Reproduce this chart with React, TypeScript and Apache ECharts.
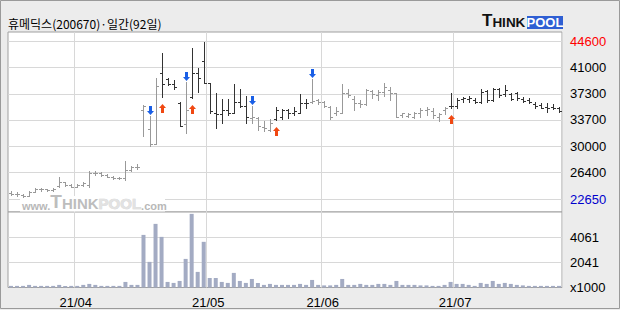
import React, { useEffect, useRef } from "react";
import * as echarts from "echarts";

const title = "휴메딕스(200670)·일간(92일)";

const dates = [
  "21/03/17", "21/03/18", "21/03/19", "21/03/22", "21/03/23", "21/03/24", "21/03/25", "21/03/26", "21/03/29", "21/03/30", "21/03/31",
  "21/04/01", "21/04/02", "21/04/05", "21/04/06", "21/04/07", "21/04/08", "21/04/09", "21/04/12", "21/04/13", "21/04/14", "21/04/15",
  "21/04/16", "21/04/19", "21/04/20", "21/04/21", "21/04/22", "21/04/23", "21/04/26", "21/04/27", "21/04/28", "21/04/29", "21/04/30",
  "21/05/03", "21/05/04", "21/05/06", "21/05/07", "21/05/10", "21/05/11", "21/05/12", "21/05/13", "21/05/14", "21/05/17", "21/05/18",
  "21/05/20", "21/05/21", "21/05/24", "21/05/25", "21/05/26", "21/05/27", "21/05/28", "21/05/31",
  "21/06/01", "21/06/02", "21/06/03", "21/06/04", "21/06/07", "21/06/08", "21/06/09", "21/06/10", "21/06/11", "21/06/14", "21/06/15",
  "21/06/16", "21/06/17", "21/06/18", "21/06/21", "21/06/22", "21/06/23", "21/06/24", "21/06/25", "21/06/28", "21/06/29", "21/06/30",
  "21/07/01", "21/07/02", "21/07/05", "21/07/06", "21/07/07", "21/07/08", "21/07/09", "21/07/12", "21/07/13", "21/07/14", "21/07/15",
  "21/07/16", "21/07/19", "21/07/20", "21/07/21", "21/07/22", "21/07/23", "21/07/26",
];

const opens = [
  23500, 23450, 23300, 23100, 23700, 24050, 24100, 23950, 24450, 25050, 24700,
  24400, 24650, 24700, 26250, 26350, 26050, 25800, 25600, 25550, 26750, 27100,
  35050, 32400, 30300, 40200, 39300, 38650, 36050, 33050, 36800, 40150, 41900,
  38750, 34700, 34500, 35050, 34700, 36200, 35550, 33950, 34000, 32750, 32300,
  33750, 34150, 35050, 34600, 34700, 36000, 36100, 36400,
  36200, 35450, 34600, 34700, 37400, 36550, 36000, 35900, 37750, 37150, 37600,
  37850, 37400, 34350, 34250, 34150, 34600, 35050, 34950, 34150, 35050, 35650,
  35550, 36600, 36650, 36450, 36150, 37700, 36450, 37950, 37250, 37250, 37350,
  36600, 36400, 35850, 35700, 35500, 35500, 35300,
];
const highs = [
  23750, 23600, 23400, 23800, 24200, 24250, 24150, 24200, 25700, 25100, 24800,
  24750, 25100, 26650, 26600, 26450, 26150, 25900, 25800, 28000, 27300, 27550,
  35700, 34200, 39450, 43000, 39550, 39250, 36200, 39000, 43650, 40950, 44550,
  38750, 37400, 36550, 36550, 38650, 37950, 37000, 35600, 34050, 33500, 33750,
  35500, 35150, 35150, 35500, 37300, 36550, 39300, 36550,
  36350, 35600, 35500, 38650, 37950, 37000, 36450, 37950, 37850, 37850, 38850,
  38300, 37400, 34700, 34700, 34800, 35300, 35500, 35300, 34700, 35500, 37400,
  36700, 36900, 37050, 36700, 37950, 37850, 38050, 38150, 38550, 37400, 37500,
  36900, 36750, 36200, 36000, 36000, 35850, 35500,
];
const lows = [
  23250, 23100, 22950, 23050, 23650, 23850, 23800, 23850, 24400, 24500, 24300,
  24350, 24550, 24350, 26050, 25850, 25700, 25450, 25450, 25350, 26600, 26800,
  31400, 30000, 30300, 36900, 38550, 37950, 32850, 31900, 36780, 37500, 38850,
  34650, 32500, 33200, 34350, 34600, 35450, 33300, 33200, 32300, 32200, 32200,
  33650, 33750, 33900, 34350, 34600, 35300, 36000, 35900,
  35500, 33750, 34350, 34600, 36800, 35050, 35500, 35750, 36700, 36450, 37000,
  36450, 34050, 34050, 34050, 33900, 34150, 34350, 34000, 33550, 34450, 35400,
  35400, 36200, 36200, 36000, 36000, 36200, 36300, 36900, 37050, 36450, 36450,
  36150, 36000, 35300, 35300, 34750, 35200, 34750,
];
const closes = [
  23450, 23350, 23050, 23700, 24050, 24100, 23950, 24100, 25050, 24700, 24400,
  24650, 24900, 26250, 26350, 26050, 25800, 25600, 25550, 26750, 27100, 27100,
  35600, 30300, 38400, 38650, 38650, 38200, 32900, 35050, 40150, 39550, 38850,
  34900, 34500, 35050, 34700, 36200, 35550, 34050, 34050, 32850, 32500, 33300,
  35050, 35050, 34600, 34950, 36000, 36050, 36250, 36200,
  35600, 34150, 34950, 37400, 37150, 36000, 35900, 37850, 37300, 37600, 38300,
  37400, 34150, 34600, 34500, 34700, 35050, 35150, 34350, 34450, 35300, 35550,
  36450, 36750, 36750, 36150, 37600, 36450, 37950, 37150, 37850, 36600, 36700,
  36250, 36200, 35550, 35400, 35400, 35300, 34900,
];
// volume in thousands of shares
const volumes = [
  130, 130, 130, 210, 130, 130, 130, 130, 210, 130, 130,
  130, 210, 290, 210, 130, 130, 130, 130, 450, 210, 210,
  4250, 2070, 5140, 4090, 450, 370, 530, 2310, 5950, 1260, 3690,
  770, 770, 450, 370, 1180, 530, 370, 690, 370, 210, 290,
  210, 210, 210, 210, 290, 210, 610, 210,
  170, 170, 210, 690, 210, 210, 290, 210, 210, 290, 290,
  210, 530, 210, 210, 210, 170, 170, 130, 130, 210, 450,
  290, 290, 210, 130, 370, 290, 530, 290, 370, 290, 210,
  170, 130, 130, 130, 130, 130, 130,
];

const buySignals = [25, 30, 44, 73];
const sellSignals = [23, 29, 40, 50];

const priceTicks = [44600, 41000, 37300, 33700, 30000, 26400, 22650];
const volumeTicks = [4061, 2041];
const volumeUnit = "x1000";

const FONT = "'Liberation Sans', Arial, sans-serif";

export default function App() {
  const ref = useRef<HTMLDivElement>(null);

  useEffect(() => {
    if (!ref.current) return;
    const chart = echarts.init(ref.current, undefined, { renderer: "svg" });

    const buySet = new Set(buySignals);
    const sellSet = new Set(sellSignals);
    const holding: boolean[] = [];
    let state = false;
    for (let i = 0; i < dates.length; i++) {
      if (buySet.has(i)) state = true;
      if (sellSet.has(i)) state = false;
      holding.push(state);
    }

    const monthStart = (i: number) =>
      i > 0 && dates[i].slice(0, 5) !== dates[i - 1].slice(0, 5);

    const ohlc = dates.map((_, i) => [i, opens[i], highs[i], lows[i], closes[i]]);

    const renderItem = (params: any, api: any) => {
      const i = api.value(0);
      const o = api.value(1);
      const h = api.value(2);
      const l = api.value(3);
      const c = api.value(4);
      const x = api.coord([i, o])[0];
      const yo = Math.round(api.coord([i, o])[1]) + 0.5;
      const yh = Math.round(api.coord([i, h])[1]);
      const yl = Math.round(api.coord([i, l])[1]) + 1;
      const yc = Math.round(api.coord([i, c])[1]) + 0.5;
      const xc = Math.round(x) + 0.5;
      const color = holding[i] ? "#333333" : "#999999";
      const st = { stroke: color, lineWidth: 1 };
      const children: any[] = [
        { type: "line", shape: { x1: xc, y1: yh, x2: xc, y2: yl }, style: st },
        { type: "line", shape: { x1: xc - 2.5, y1: yo, x2: xc, y2: yo }, style: st },
        { type: "line", shape: { x1: xc, y1: yc, x2: xc + 2.5, y2: yc }, style: st },
      ];
      if (buySet.has(i)) {
        const t = yl + 6;
        children.push({
          type: "polygon",
          shape: {
            points: [
              [xc, t], [xc + 3.5, t + 4], [xc + 1.5, t + 4], [xc + 1.5, t + 9],
              [xc - 1.5, t + 9], [xc - 1.5, t + 4], [xc - 3.5, t + 4],
            ],
          },
          style: { fill: "#f04812" },
        });
      }
      if (sellSet.has(i)) {
        const b = yh - 1;
        children.push({
          type: "polygon",
          shape: {
            points: [
              [xc, b], [xc - 3.5, b - 4], [xc - 1.5, b - 4], [xc - 1.5, b - 9],
              [xc + 1.5, b - 9], [xc + 1.5, b - 4], [xc + 3.5, b - 4],
            ],
          },
          style: { fill: "#1a5fe6" },
        });
      }
      return { type: "group", children };
    };

    const labelBase = {
      fontFamily: FONT,
      fontSize: 13,
      color: "#000",
    };

    const option: any = {
      animation: false,
      backgroundColor: "#ececec",
      grid: [
        {
          left: 8, top: 32, width: 554, height: 180,
          show: true, backgroundColor: "#fff", borderColor: "#a0a0a0", borderWidth: 1,
        },
        {
          left: 8, top: 212, width: 554, height: 75.5,
          show: true, backgroundColor: "#fff", borderColor: "#a0a0a0", borderWidth: 1,
        },
      ],
      xAxis: [
        {
          type: "category", gridIndex: 0, data: dates, boundaryGap: true,
          axisLine: { show: false }, axisTick: { show: false }, axisLabel: { show: false },
          splitLine: { show: true, interval: (i: number) => monthStart(i), lineStyle: { color: "#d8d8d8", width: 1 } },
        },
        {
          type: "category", gridIndex: 1, data: dates, boundaryGap: true,
          axisLine: { show: false }, axisTick: { show: false },
          axisLabel: {
            show: true,
            interval: (i: number) => monthStart(i),
            formatter: (v: string) => v.slice(0, 5),
            ...labelBase,
            margin: 8,
            padding: [0, 3, 0, 0],
          },
          splitLine: { show: true, interval: (i: number) => monthStart(i), lineStyle: { color: "#d8d8d8", width: 1 } },
        },
      ],
      yAxis: [
        { type: "value", gridIndex: 0, min: 20886, max: 45892, show: false, splitLine: { show: false } },
        { type: "value", gridIndex: 1, min: 0, max: 6100, show: false, splitLine: { show: false } },
      ],
      series: [
        {
          type: "line",
          xAxisIndex: 0, yAxisIndex: 0,
          data: closes,
          showSymbol: false,
          symbol: "none",
          silent: true,
          z: 1,
          lineStyle: { opacity: 0, width: 0 },
          markLine: {
            silent: true,
            z: 1,
            symbol: "none",
            animation: false,
            lineStyle: { color: "#d8d8d8", width: 1, type: "solid" },
            label: {
              show: true, position: "end", distance: 8,
              formatter: (p: any) => String(p.value),
              ...labelBase,
            },
            data: priceTicks.map((v, k) => ({
              yAxis: v,
              label: {
                color: k === 0 ? "#ff0000" : k === priceTicks.length - 1 ? "#0000cc" : "#000",
              },
            })),
          },
        },
        {
          type: "custom",
          xAxisIndex: 0, yAxisIndex: 0,
          data: ohlc,
          encode: { x: 0, y: [1, 2, 3, 4] },
          renderItem,
          z: 10,
          silent: true,
        },
        {
          type: "bar",
          xAxisIndex: 1, yAxisIndex: 1,
          data: volumes,
          barWidth: 4,
          itemStyle: { color: "#a3abc3" },
          z: 8,
          silent: true,
          markLine: {
            silent: true,
            z: 1,
            symbol: "none",
            animation: false,
            lineStyle: { color: "#d8d8d8", width: 1, type: "solid" },
            label: {
              show: true, position: "end", distance: 8,
              formatter: (p: any) => (p.value === 0 ? volumeUnit : String(p.value)),
              ...labelBase,
            },
            data: [
              ...volumeTicks.map((v) => ({ yAxis: v })),
              { yAxis: 0, lineStyle: { color: "rgba(0,0,0,0)", width: 0 } },
            ],
          },
        },
      ],
      graphic: [
        {
          type: "rect", z: 100, silent: true,
          shape: { x: 0.5, y: 0.5, width: 619, height: 308 },
          style: { fill: "none", stroke: "#9a9a9a", lineWidth: 1 },
        },
        {
          type: "text", z: 20, x: 8, y: 23, silent: true,
          style: {
            text: title, fill: "#000", font: "12px 'Noto Sans CJK KR', sans-serif",
            verticalAlign: "middle", textAlign: "left",
          },
        },
        // top-right logo
        {
          type: "text", z: 20, x: 482, y: 29, silent: true,
          style: {
            text: "{t|T}{h|HINK}",
            verticalAlign: "bottom",
            rich: {
              t: { fill: "#111", fontSize: 17, fontWeight: "bold", fontFamily: FONT, verticalAlign: "bottom" },
              h: { fill: "#111", fontSize: 13.5, fontWeight: "bold", fontFamily: FONT, verticalAlign: "bottom" },
            },
          },
        },
        {
          type: "rect", z: 20, silent: true,
          shape: { x: 527, y: 16, width: 36, height: 13 },
          style: { fill: "#2f5fd3" },
        },
        {
          type: "text", z: 21, x: 545, y: 22.8, silent: true,
          style: {
            text: "POOL", fill: "#fff", font: "bold 13px 'Liberation Sans', Arial, sans-serif",
            textAlign: "center", verticalAlign: "middle",
          },
        },
        // watermark
        {
          type: "rect", z: 6, silent: true,
          shape: { x: 20, y: 196, width: 145, height: 15.5 },
          style: { fill: "#fff" },
        },
        {
          type: "text", z: 7, x: 22, y: 211, silent: true,
          style: {
            text: "{w|www.}{t|T}{h|HINK}{p|POOL}{c|.com}",
            verticalAlign: "bottom",
            rich: {
              w: { fill: "#b8b8b8", fontSize: 11, fontWeight: "bold", fontFamily: FONT, verticalAlign: "bottom" },
              t: { fill: "#bdbdbd", fontSize: 19, fontWeight: "bold", fontFamily: FONT, verticalAlign: "bottom" },
              h: { fill: "#bdbdbd", fontSize: 15, fontWeight: "bold", fontFamily: FONT, verticalAlign: "bottom" },
              p: { fill: "#e2e2e2", stroke: "#cfcfcf", lineWidth: 0.6, fontSize: 15, fontWeight: "bold", fontFamily: FONT, verticalAlign: "bottom" },
              c: { fill: "#b8b8b8", fontSize: 11, fontWeight: "bold", fontFamily: FONT, verticalAlign: "bottom" },
            },
          },
        },
      ],
    };

    chart.setOption(option);
    return () => chart.dispose();
  }, []);

  return (
    <div
      ref={ref}
      style={{ position: "absolute", left: 0, top: 0, width: 620, height: 310 }}
    />
  );
}
